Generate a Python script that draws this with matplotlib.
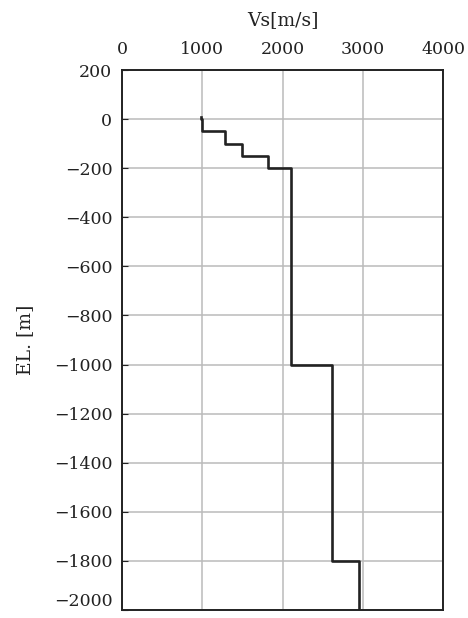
import matplotlib
matplotlib.use('Agg')
import matplotlib.pyplot as plt

# Perfil de velocidade de onda S (degraus)
vs = [990, 1000, 1280, 1500, 1820, 2100, 2620, 2950]
topo = [10, 0, -50, -100, -150, -200, -1000, -1800]
base = [0, -50, -100, -150, -200, -1000, -1800, -2000]

plt.rcParams['font.family'] = ['DejaVu Serif']

fig = plt.figure(figsize=(4.68, 6.18), dpi=100)
ax = fig.add_axes([0.2607, 0.0129, 0.686, 0.8738])

xs, ys = [], []
for v, t, b in zip(vs, topo, base):
    xs += [v, v]
    ys += [t, b]
ax.plot(xs, ys, color='#222222', linewidth=1.9, zorder=3)

ax.set_xlim(0, 4000)
ax.set_ylim(-2000, 200)
ax.set_xticks([0, 1000, 2000, 3000, 4000])
ax.set_yticks(range(-2000, 201, 200))
ax.xaxis.tick_top()
ax.xaxis.set_label_position('top')
ax.tick_params(axis='x', length=0, pad=9, labelsize=12.5, colors='#222222')
ax.tick_params(axis='y', direction='in', length=4, labelsize=12.5, pad=7,
               colors='#222222')
ax.set_xlabel('Vs[m/s]', fontsize=13.5, labelpad=11, color='#222222')
ax.set_ylabel('EL. [m]', fontsize=13.5, labelpad=14, color='#222222')
ax.grid(color='#bbbbbb', linewidth=1.1)
ax.set_axisbelow(True)
for s in ax.spines.values():
    s.set_linewidth(1.4)
    s.set_color('#222222')

# rótulo inferior fica acima da borda, como no original
ax.get_yticklabels()[0].set_verticalalignment('bottom')

fig.savefig('out.png', dpi=100)
